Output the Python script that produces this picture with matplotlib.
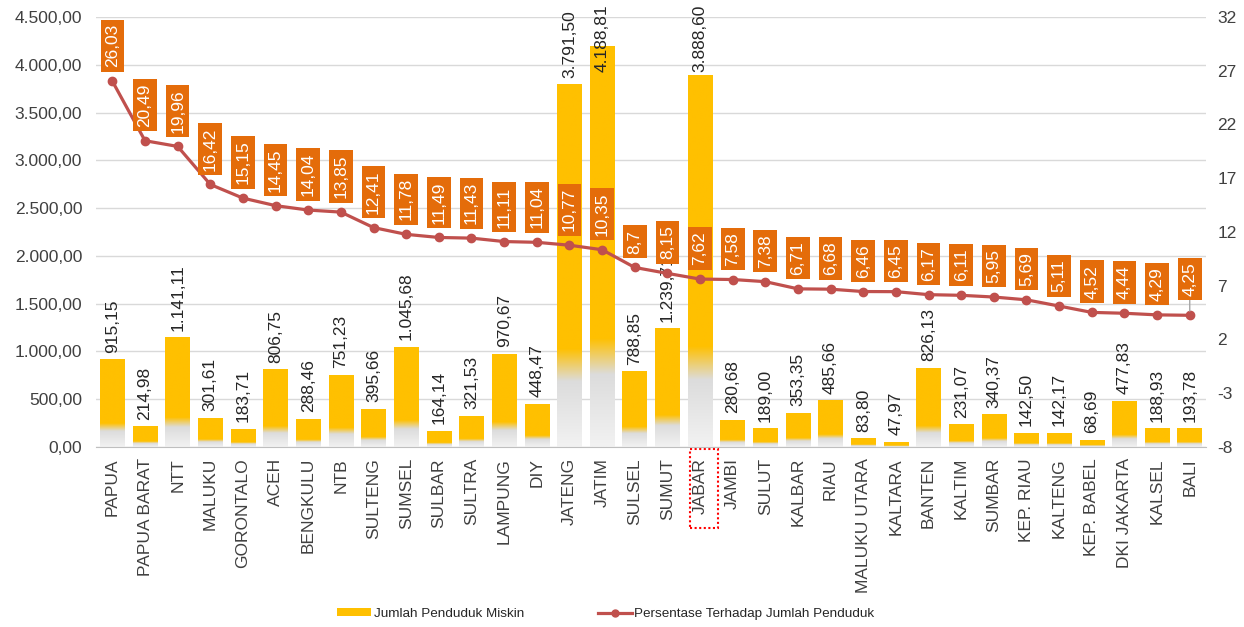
import numpy as np
import matplotlib.pyplot as plt
import matplotlib.transforms as mtransforms
from matplotlib.colors import LinearSegmentedColormap
from matplotlib.patches import Patch, Rectangle
from matplotlib.lines import Line2D
from matplotlib.ticker import FuncFormatter

plt.rcParams['font.family'] = ['Liberation Sans', 'DejaVu Sans']
plt.rcParams['axes.unicode_minus'] = False

provinsi = [
    "PAPUA", "PAPUA BARAT", "NTT", "MALUKU", "GORONTALO", "ACEH", "BENGKULU",
    "NTB", "SULTENG", "SUMSEL", "SULBAR", "SULTRA", "LAMPUNG", "DIY", "JATENG",
    "JATIM", "SULSEL", "SUMUT", "JABAR", "JAMBI", "SULUT", "KALBAR", "RIAU",
    "MALUKU UTARA", "KALTARA", "BANTEN", "KALTIM", "SUMBAR", "KEP. RIAU",
    "KALTENG", "KEP. BABEL", "DKI JAKARTA", "KALSEL", "BALI",
]
# jumlah penduduk miskin (ribu jiwa)
jumlah_miskin = [
    915.15, 214.98, 1141.11, 301.61, 183.71, 806.75, 288.46,
    751.23, 395.66, 1045.68, 164.14, 321.53, 970.67, 448.47, 3791.50,
    4188.81, 788.85, 1239.71, 3888.60, 280.68, 189.00, 353.35, 485.66,
    83.80, 47.97, 826.13, 231.07, 340.37, 142.50,
    142.17, 68.69, 477.83, 188.93, 193.78,
]
# persentase terhadap jumlah penduduk (%)
persentase = [
    26.03, 20.49, 19.96, 16.42, 15.15, 14.45, 14.04,
    13.85, 12.41, 11.78, 11.49, 11.43, 11.11, 11.04, 10.77,
    10.35, 8.7, 8.15, 7.62, 7.58, 7.38, 6.71, 6.68,
    6.46, 6.45, 6.17, 6.11, 5.95, 5.69,
    5.11, 4.52, 4.44, 4.29, 4.25,
]
sorotan = "JABAR"

GOLD = "#FFC000"
LINE_RED = "#C0504D"
BOX_ORANGE = "#E46C0A"
TXT = "#404040"
FS = 12.5


def fmt_id(v, dec=2):
    s = f"{v:,.{dec}f}"
    return s.replace(",", "X").replace(".", ",").replace("X", ".")


fig = plt.figure(figsize=(12.44, 6.27), dpi=100)
ax = fig.add_axes([0.0772, 0.2871, 0.8923, 0.6858])
ax2 = ax.twinx()

x = np.arange(len(provinsi))
bars = ax.bar(x, jumlah_miskin, width=0.75, color=GOLD, zorder=1)

# bar fill fades from gold into light grey near the base
cmap = LinearSegmentedColormap.from_list(
    "bar_fade",
    [(0.0, "#F2F2F2"), (0.18, "#DCDCDC"), (0.27, GOLD), (1.0, GOLD)],
)
grad = np.linspace(0, 1, 256).reshape(-1, 1)
for rect in bars:
    x0, w, h = rect.get_x(), rect.get_width(), rect.get_height()
    ax.imshow(grad, extent=(x0, x0 + w, 0, h), origin="lower", cmap=cmap,
              aspect="auto", zorder=2, interpolation="bilinear")

for xi, v in zip(x, jumlah_miskin):
    ax.annotate(fmt_id(v), (xi, min(v, 3850)), xytext=(0, 5),
                textcoords="offset points", rotation=90, ha="center",
                va="bottom", fontsize=FS, color="#262626", zorder=4,
                annotation_clip=False)

ax.set_xlim(-0.5, len(provinsi) - 0.5)
ax.set_ylim(0, 4500)
ax.set_yticks(np.arange(0, 4501, 500))
ax.yaxis.set_major_formatter(FuncFormatter(lambda v, _: fmt_id(v)))
ax.set_xticks(x)
ax.set_xticklabels(provinsi, rotation=90, fontsize=FS, color=TXT)
ax.tick_params(axis="x", length=0, pad=8)
ax.tick_params(axis="y", length=0, pad=10, labelsize=FS, labelcolor=TXT)
ax.grid(axis="y", color="#D9D9D9", linewidth=1)
ax.set_axisbelow(True)
for side in ["left", "right", "top"]:
    ax.spines[side].set_visible(False)
ax.spines["bottom"].set_color("#BFBFBF")

# percentage line on the secondary axis
ax2.plot(x, persentase, color=LINE_RED, linewidth=2.3, marker="o",
         markersize=6, zorder=3)
box_style = dict(boxstyle="square,pad=0.25", facecolor=BOX_ORANGE,
                 edgecolor="none")
for xi, p in zip(x, persentase):
    last = xi == len(x) - 1
    ax2.annotate(f"{p:g}".replace(".", ","), (xi, p),
                 xytext=(0, 14 if last else 10),
                 textcoords="offset points", rotation=90, ha="center",
                 va="bottom", fontsize=FS, color="white", zorder=5,
                 annotation_clip=False, bbox=box_style,
                 arrowprops=dict(arrowstyle="-", color="#A6A6A6", lw=1,
                                 shrinkA=0, shrinkB=3) if last else None)
ax2.set_ylim(-8, 32)
ax2.set_yticks(np.arange(-8, 33, 5))
ax2.tick_params(axis="y", length=0, pad=8, labelsize=FS, labelcolor=TXT)
for side in ["left", "right", "top", "bottom"]:
    ax2.spines[side].set_visible(False)

# dotted frame around the highlighted province label
i_hl = provinsi.index(sorotan)
trans = mtransforms.blended_transform_factory(ax.transData, ax.transAxes)
ax.add_patch(Rectangle((i_hl - 0.32, -0.188), 0.88, 0.184, transform=trans,
                       fill=False, edgecolor="#FF0000", linestyle=(0, (1, 1.2)),
                       linewidth=1.5, clip_on=False))

handles = [
    Patch(facecolor=GOLD, edgecolor="none", label="Jumlah Penduduk Miskin"),
    Line2D([], [], color=LINE_RED, linewidth=2.3, marker="o", markersize=5,
           label="Persentase Terhadap Jumlah Penduduk"),
]
fig.legend(handles=handles, loc="lower center", bbox_to_anchor=(0.487, -0.008),
           ncol=2, frameon=False, fontsize=9.7, columnspacing=5.5,
           handlelength=2.5, handleheight=0.5, handletextpad=0.2,
           labelcolor="#262626")

fig.savefig("out.png", dpi=100)
